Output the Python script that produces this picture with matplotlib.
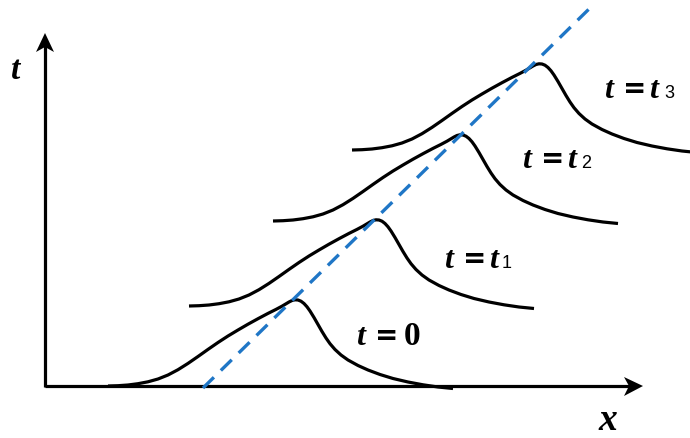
import numpy as np
import matplotlib.pyplot as plt
from matplotlib.patches import Polygon

plt.rcParams['lines.scale_dashes'] = False

# pulse profile, offsets from the left foot of the wave (px, y down)
prof_dx = [0, 10, 20, 30, 40, 50, 60, 70, 80, 90, 100, 110, 120, 130, 140, 150, 160,
           168, 174, 178, 181, 184, 187, 190, 193, 196, 199, 202, 206, 210, 214, 218,
           222, 227, 233, 240, 250, 260, 272, 285, 300, 315, 330, 345]
prof_dy = [0, -0.3, -1.0, -2.3, -4.2, -7.0, -11.0, -16.3, -22.6, -29.5, -36.6, -43.5,
           -50.0, -56.0, -61.8, -67.3, -72.6, -76.6, -79.8, -82.2, -84.0, -85.5, -86.2,
           -86.0, -84.8, -82.5, -79.2, -75.0, -68.5, -61.5, -54.5, -48.0, -42.3, -36.5,
           -31.0, -26.0, -20.5, -16.0, -11.5, -7.5, -4.0, -1.2, 1.0, 2.5]

# left foot of each snapshot
foot_x = [108, 189, 273, 352]
foot_y = [386, 306, 221, 150]

# labels "t = ...": left edge, baseline, right-hand part, subscript
lab_x = [357, 445, 523, 605]
lab_y = [345, 268, 168, 98]
lab_rhs = ['0', 't', 't', 't']
lab_sub = ['', '1', '2', '3']
sub_x = [0, 502, 581, 664]

# characteristic line
char_x = [203, 589]
char_y = [388, 9]

fig = plt.figure(figsize=(6.9, 4.38), dpi=100)
ax = fig.add_axes([0, 0, 1, 1])
ax.set_xlim(0, 690)
ax.set_ylim(438, 0)
ax.axis('off')

ital = dict(family='Liberation Serif', weight='bold', style='italic')
upr = dict(family='Liberation Serif', weight='bold')

# axes with stealth heads
ax.plot([45, 630], [386, 386], color='black', lw=2.3, solid_capstyle='butt')
ax.plot([45, 45], [387, 45], color='black', lw=2.3, solid_capstyle='butt')
ax.add_patch(Polygon([[643, 386], [624, 377], [629, 386], [624, 396]], closed=True,
                     color='black', lw=0))
ax.add_patch(Polygon([[45, 33], [36, 52], [45, 47], [54, 52]], closed=True,
                     color='black', lw=0))
ax.text(11, 79, 't', fontsize=24, va='baseline', **ital)
ax.text(598, 430, 'x', fontsize=27, va='baseline', **ital)

for x0, y0 in zip(foot_x, foot_y):
    ax.plot(x0 + np.array(prof_dx), y0 + np.array(prof_dy), color='black', lw=2.3,
            solid_capstyle='butt', solid_joinstyle='round')

ax.plot(char_x, char_y, color='#1f76c6', lw=2.4, ls=(0, (11, 7)),
        dash_capstyle='butt')

for x, y, r, s, sx in zip(lab_x, lab_y, lab_rhs, lab_sub, sub_x):
    ax.text(x - 1, y, 't', fontsize=23, va='baseline', **ital)
    ax.text(x + 18, y - 1, '=', fontsize=20, va='baseline', family='DejaVu Sans',
            weight='bold')
    if r == '0':
        ax.text(x + 47, y, r, fontsize=24, va='baseline', **upr)
    else:
        ax.text(x + 44, y, r, fontsize=23, va='baseline', **ital)
    if s:
        ax.text(sx, y, s, fontsize=13, va='baseline', family='Liberation Sans')

fig.savefig('out.png', dpi=100)
